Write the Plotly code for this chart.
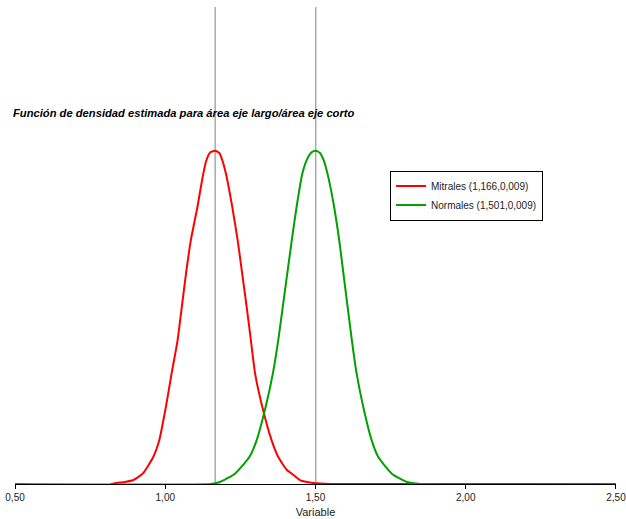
import plotly.graph_objects as go

# Data (density estimates)
mitrales_x = [0.819, 0.838, 0.866, 0.894, 0.925, 0.960, 0.980, 1.002, 1.021, 1.041, 1.055,
              1.069, 1.085, 1.107, 1.124, 1.136, 1.150, 1.166, 1.180, 1.188, 1.202, 1.223,
              1.241, 1.256, 1.271, 1.285, 1.299, 1.323, 1.354, 1.376, 1.404, 1.421, 1.448,
              1.472, 1.492, 1.55, 2.50]
mitrales_y = [0.0, 0.013, 0.025, 0.05, 0.13, 0.34, 0.55, 0.97, 1.39, 1.81, 2.23,
              2.65, 3.07, 3.49, 3.86, 4.07, 4.18, 4.20, 4.17, 4.10, 3.91, 3.49,
              3.07, 2.65, 2.23, 1.81, 1.39, 0.97, 0.55, 0.34, 0.18, 0.13, 0.05,
              0.025, 0.013, 0.0, 0.0]

normales_x = [0.50, 1.15, 1.182, 1.232, 1.280, 1.304, 1.334, 1.358, 1.376, 1.391, 1.406,
              1.421, 1.437, 1.456, 1.473, 1.487, 1.501, 1.515, 1.528, 1.543, 1.562, 1.579,
              1.593, 1.607, 1.621, 1.637, 1.659, 1.687, 1.709, 1.754, 1.804, 1.85, 2.50]
normales_y = [0.0, 0.0, 0.025, 0.13, 0.34, 0.55, 0.97, 1.39, 1.81, 2.23, 2.65,
              3.07, 3.49, 3.91, 4.10, 4.18, 4.20, 4.17, 4.07, 3.86, 3.49, 3.07,
              2.65, 2.23, 1.81, 1.39, 0.97, 0.55, 0.34, 0.13, 0.025, 0.0, 0.0]

series_names = ["Mitrales (1,166,0,009)", "Normales (1,501,0,009)"]
means = [1.166, 1.501]
tick_vals = [0.5, 1.0, 1.5, 2.0, 2.5]
tick_text = ["0,50", "1,00", "1,50", "2,00", "2,50"]
title_text = "Función de densidad estimada para área eje largo/área eje corto"
x_title = "Variable"

FONT = "Liberation Sans, Arial, sans-serif"

fig = go.Figure()
fig.add_trace(go.Scatter(x=mitrales_x, y=mitrales_y, mode="lines", name=series_names[0],
                         line=dict(color="#ff0000", width=2, shape="spline", smoothing=0.5)))
fig.add_trace(go.Scatter(x=normales_x, y=normales_y, mode="lines", name=series_names[1],
                         line=dict(color="#00a000", width=2, shape="spline", smoothing=0.5)))

for m in means:
    fig.add_shape(type="line", xref="x", yref="paper", x0=m, x1=m, y0=0, y1=1,
                  line=dict(color="#7f7f7f", width=1), layer="below")

fig.add_annotation(text="<b><i>" + title_text + "</i></b>", xref="paper", yref="paper",
                   x=-0.006, y=0.778, xanchor="left", yanchor="middle", showarrow=False,
                   font=dict(family=FONT, size=11.2, color="#000000"))

fig.update_layout(
    width=626, height=519,
    margin=dict(l=15, r=10, t=7, b=35),
    paper_bgcolor="white", plot_bgcolor="white",
    font=dict(family=FONT, size=10, color="#222222"),
    showlegend=True,
    legend=dict(x=0.624, y=0.657, xanchor="left", yanchor="top",
                bordercolor="#000000", borderwidth=1, bgcolor="white",
                font=dict(family=FONT, size=10, color="#222222"),
                tracegroupgap=0, itemwidth=30),
    xaxis=dict(range=[0.4999, 2.5001], tickvals=tick_vals, ticktext=tick_text,
               showline=True, linecolor="#000000", linewidth=1,
               ticks="outside", ticklen=4, tickcolor="#000000",
               showgrid=False, zeroline=False, automargin=False,
               ticklabeloverflow="allow",
               title=dict(text=x_title, font=dict(family=FONT, size=11, color="#222222"), standoff=6),
               tickfont=dict(family=FONT, size=10, color="#222222")),
    yaxis=dict(range=[0, 6.01], visible=False, showgrid=False, zeroline=False),
)

fig.write_html("out.html")
